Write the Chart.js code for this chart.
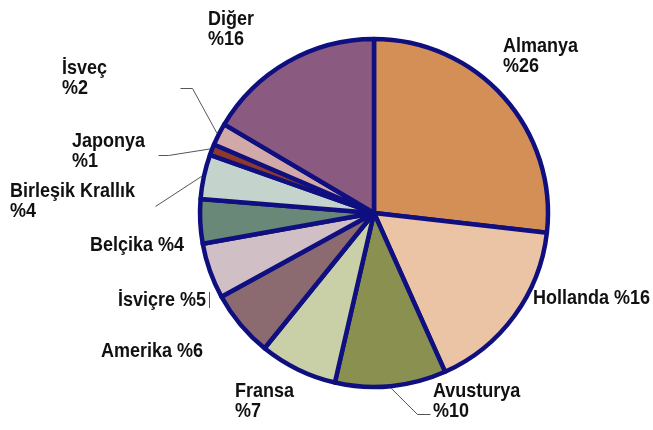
<!DOCTYPE html>
<html>
<head>
<meta charset="utf-8">
<script src="https://cdn.jsdelivr.net/npm/chart.js@4/dist/chart.umd.min.js"></script>
<style>
  html, body { margin: 0; padding: 0; background: #fff; }
  #wrap { width: 653px; height: 430px; }
</style>
</head>
<body>
<div id="wrap"><canvas id="exportChart" width="653" height="430"></canvas></div>
<script>
// export shares by country, clockwise from 12 o'clock
const countries = ['Almanya', 'Hollanda', 'Avusturya', 'Fransa', 'Amerika', 'İsviçre',
                   'Belçika', 'Birleşik Krallık', 'Japonya', 'İsveç', 'Diğer'];
const shares = [26, 16, 10, 7, 6, 5, 4, 4, 1, 2, 16];
const sliceColors = ['#D48F57', '#EAC4A5', '#8A9150', '#C9CFA6', '#8B6B70', '#D0C0C6',
                     '#6A8878', '#C4D4CC', '#8C3A2C', '#D1A9A8', '#8B5A80'];

// label placement: text position, two lines or one, optional leader elbow
const labelPos = [
    { x: 503, y: 52, twoLines: true },
    { x: 533, y: 304, twoLines: false },
    { x: 433, y: 397, twoLines: true, leader: [[430, 414], [417, 414]] },
    { x: 235, y: 397, twoLines: true },
    { x: 101, y: 357, twoLines: false },
    { x: 118, y: 306, twoLines: false, tick: [[209, 292], [209, 308]] },
    { x: 90, y: 251, twoLines: false },
    { x: 10, y: 197, twoLines: true, leader: [[155, 206]] },
    { x: 72, y: 147, twoLines: true, leader: [[158, 155], [168, 155]] },
    { x: 62, y: 74, twoLines: true, leader: [[180, 88], [192, 88]] },
    { x: 208, y: 25, twoLines: true }
];

// bold sans, stretched a bit taller than it is wide
function drawTallText(ctx, text, x, y) {
    ctx.save();
    ctx.translate(x, y);
    ctx.scale(1, 1.12);
    ctx.fillText(text, 0, 0);
    ctx.restore();
}

const sliceLabels = {
    id: 'sliceLabels',
    afterDatasetsDraw(chart) {
        const ctx = chart.ctx;
        const arcs = chart.getDatasetMeta(0).data;
        ctx.save();
        ctx.strokeStyle = '#555';
        ctx.lineWidth = 1;
        arcs.forEach((arc, i) => {
            const pos = labelPos[i];
            const p = arc.getProps(['x', 'y', 'startAngle', 'endAngle', 'outerRadius']);
            const mid = (p.startAngle + p.endAngle) / 2;
            const edge = [p.x + Math.cos(mid) * (p.outerRadius + 2), p.y + Math.sin(mid) * (p.outerRadius + 2)];
            if (pos.leader) {
                ctx.beginPath();
                ctx.moveTo(pos.leader[0][0] + 0.5, pos.leader[0][1] + 0.5);
                pos.leader.slice(1).forEach(pt => ctx.lineTo(pt[0] + 0.5, pt[1] + 0.5));
                ctx.lineTo(edge[0], edge[1]);
                ctx.stroke();
            }
            if (pos.tick) {
                ctx.beginPath();
                ctx.moveTo(pos.tick[0][0] + 0.5, pos.tick[0][1]);
                ctx.lineTo(pos.tick[1][0] + 0.5, pos.tick[1][1]);
                ctx.stroke();
            }
        });

        ctx.fillStyle = '#111';
        ctx.font = 'bold 18px "Liberation Sans", Arial, sans-serif';
        ctx.textBaseline = 'alphabetic';
        ctx.textAlign = 'left';
        countries.forEach((name, i) => {
            const pos = labelPos[i];
            const pct = '%' + shares[i];
            if (pos.twoLines) {
                drawTallText(ctx, name, pos.x, pos.y);
                drawTallText(ctx, pct, pos.x, pos.y + 20);
            } else {
                drawTallText(ctx, name + ' ' + pct, pos.x, pos.y);
            }
        });
        ctx.restore();
    }
};

new Chart(document.getElementById('exportChart'), {
    type: 'pie',
    data: {
        labels: countries,
        datasets: [{
            data: shares,
            backgroundColor: sliceColors,
            borderColor: '#0F0F80',
            borderWidth: 4.5,
            borderJoinStyle: 'round'
        }]
    },
    options: {
        responsive: false,
        animation: false,
        radius: 174,
        layout: { padding: { left: 199, right: 104, top: 38, bottom: 42 } },
        plugins: {
            legend: { display: false },
            tooltip: { enabled: false }
        }
    },
    plugins: [sliceLabels]
});
</script>
</body>
</html>
